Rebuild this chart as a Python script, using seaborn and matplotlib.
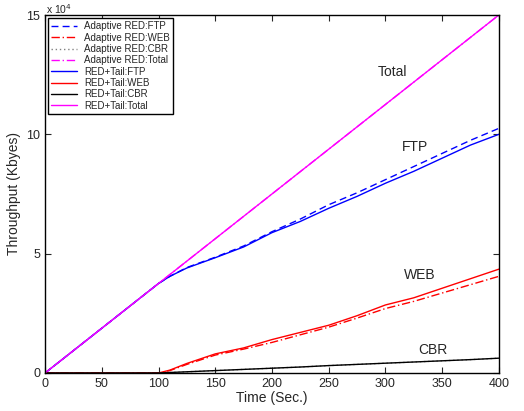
import pandas as pd
import matplotlib
matplotlib.use("Agg")
import matplotlib.pyplot as plt
import seaborn as sns

# --- datos (Throughput en unidades de 10^4 Kbytes) ---
time_sec = [0, 50, 100, 110, 125, 150, 175, 200, 225, 250, 275, 300, 325, 350, 375, 400]

ada_ftp = [0, 1.875, 3.75, 4.05, 4.42, 4.85, 5.32, 5.92, 6.45, 7.05, 7.55, 8.10, 8.65, 9.20, 9.75, 10.25]
ada_web = [0, 0, 0, 0.10, 0.36, 0.75, 1.00, 1.28, 1.60, 1.92, 2.30, 2.70, 3.00, 3.35, 3.70, 4.05]
ada_cbr = [0, 0, 0, 0.02, 0.05, 0.10, 0.15, 0.20, 0.25, 0.31, 0.36, 0.41, 0.46, 0.51, 0.56, 0.62]
ada_total = [0, 1.875, 3.75, 4.125, 4.6875, 5.625, 6.5625, 7.5, 8.4375, 9.375, 10.3125, 11.25, 12.1875, 13.125, 14.0625, 15.0]

tail_ftp = [0, 1.875, 3.75, 4.05, 4.40, 4.83, 5.28, 5.88, 6.35, 6.90, 7.40, 7.95, 8.45, 9.00, 9.55, 10.00]
tail_web = [0, 0, 0, 0.12, 0.40, 0.80, 1.05, 1.40, 1.70, 2.00, 2.40, 2.85, 3.15, 3.55, 3.95, 4.35]
tail_cbr = [0, 0, 0, 0.02, 0.05, 0.10, 0.15, 0.20, 0.25, 0.31, 0.36, 0.41, 0.46, 0.51, 0.56, 0.62]
tail_total = [0, 1.875, 3.75, 4.125, 4.6875, 5.625, 6.5625, 7.5, 8.4375, 9.375, 10.3125, 11.25, 12.1875, 13.125, 14.0625, 15.0]

x_ticks = [0, 50, 100, 150, 200, 250, 300, 350, 400]
y_ticks = [0, 5, 10, 15]

labels_curvas = ["Total", "FTP", "WEB", "CBR"]
pos_labels = [(306, 12.6), (326, 9.45), (330, 4.1), (342, 0.95)]

series = [
    ("Adaptive RED:FTP", ada_ftp, "blue", (0, (5, 3))),
    ("Adaptive RED:WEB", ada_web, "red", (0, (6, 2, 1, 2))),
    ("Adaptive RED:CBR", ada_cbr, "gray", (0, (1, 2))),
    ("Adaptive RED:Total", ada_total, "magenta", (0, (6, 2, 1, 2))),
    ("RED+Tail:FTP", tail_ftp, "blue", "-"),
    ("RED+Tail:WEB", tail_web, "red", "-"),
    ("RED+Tail:CBR", tail_cbr, "black", "-"),
    ("RED+Tail:Total", tail_total, "magenta", "-"),
]

# --- estilo ---
sns.set_style("ticks")
plt.rcParams['font.family'] = ['Liberation Sans', 'DejaVu Sans']

fig = plt.figure(figsize=(5.24, 4.11), dpi=100)
ax = fig.add_axes([0.086, 0.0925, 0.866, 0.871])

for nombre, valores, color, ls in series:
    df = pd.DataFrame({"t": time_sec, "v": valores})
    sns.lineplot(data=df, x="t", y="v", ax=ax, color=color, linestyle=ls,
                 linewidth=1.0, label=nombre)

for txt, (px, py) in zip(labels_curvas, pos_labels):
    ax.text(px, py, txt, fontsize=10, ha="center", va="center")

ax.set_xlim(0, 400)
ax.set_ylim(0, 15)
ax.set_xticks(x_ticks)
ax.set_yticks(y_ticks)
ax.tick_params(direction="in", top=True, right=True, labelsize=9, length=4, width=0.8)
for s in ax.spines.values():
    s.set_linewidth(1.0)
    s.set_color("black")

ax.set_xlabel("Time (Sec.)", fontsize=10, labelpad=1)
ax.set_ylabel("Throughput (Kbyes)", fontsize=10, labelpad=4)
fig.text(0.088, 0.966, r"x 10$^4$", fontsize=7.5, ha="left", va="baseline")

leg = ax.legend(loc="upper left", fontsize=7, handlelength=2.6, labelspacing=0.14,
                borderaxespad=0.35, borderpad=0.3, handletextpad=0.8, fancybox=False,
                framealpha=1, edgecolor="black")
leg.get_frame().set_linewidth(1.0)

plt.savefig("out.png", dpi=100)
